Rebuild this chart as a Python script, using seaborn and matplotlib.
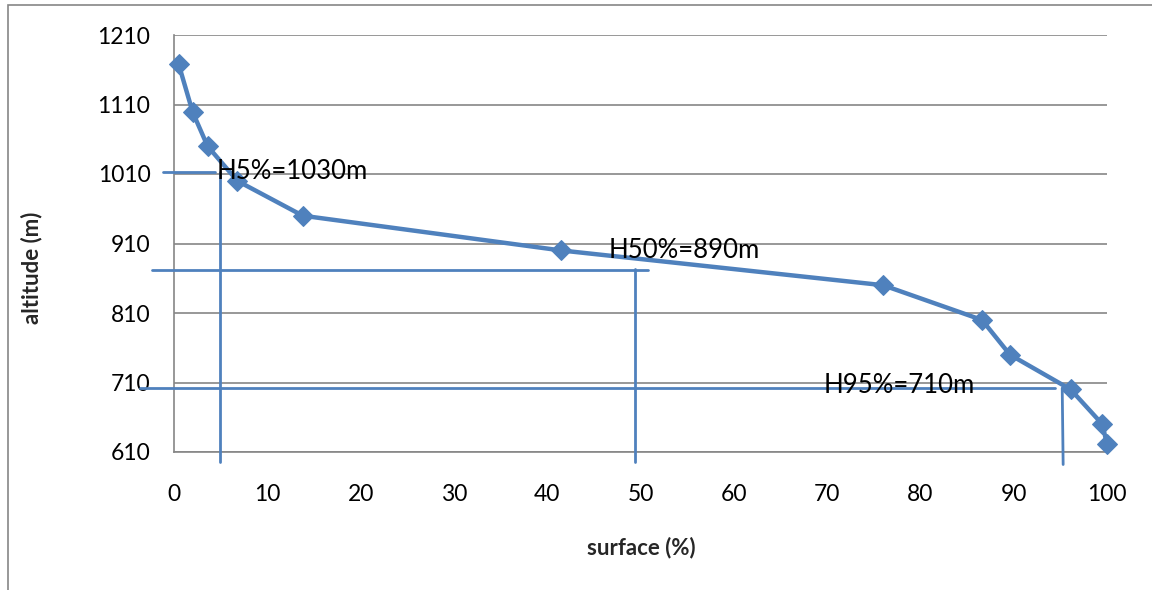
import matplotlib
matplotlib.use("Agg")
import matplotlib.pyplot as plt
import seaborn as sns
import pandas as pd
from matplotlib.patches import Rectangle

# Data
surface = [0.5, 2.0, 3.6, 6.8, 13.8, 41.5, 76.0, 86.6, 89.6, 96.1, 99.5, 100.0]
altitude = [1168, 1099, 1050, 1000, 950, 900, 850, 800, 750, 700, 650, 621]
y_ticks = [610, 710, 810, 910, 1010, 1110, 1210]
x_ticks = [0, 10, 20, 30, 40, 50, 60, 70, 80, 90, 100]

# annotation guide lines (data coords): (x0, y0, x1, y1)
guides = [
    (-1.2, 1013, 4.4, 1013), (4.95, 1013, 4.95, 596),
    (-2.4, 872, 50.8, 872), (49.4, 874, 49.4, 596),
    (-3.6, 702, 94.4, 702), (95.2, 702, 95.3, 592),
]
labels = ["H5%=1030m", "H50%=890m", "H95%=710m"]
label_pos = [(4.6, 1013), (46.6, 900), (69.6, 705)]

sns.set_theme(style="white")
plt.rcParams["font.family"] = ["Lato", "DejaVu Sans"]

blue = "#4F81BD"
fig = plt.figure(figsize=(11.52, 5.90), dpi=100)
ax = fig.add_axes([174/1152, 1-452/590, (1107-174)/1152, (452-35)/590])

df = pd.DataFrame({"surface": surface, "altitude": altitude})
sns.lineplot(data=df, x="surface", y="altitude", ax=ax, color=blue, lw=3.2,
             marker="D", markersize=10, markeredgecolor=blue, clip_on=False,
             zorder=5)

ax.set_xlim(0, 100)
ax.set_ylim(610, 1210)
ax.set_xticks(x_ticks)
ax.set_yticks(y_ticks)
ax.tick_params(axis="both", labelsize=16.5, colors="black", direction="out",
               length=7, width=1.2)
ax.tick_params(axis="x", color="#868686", pad=16)
ax.tick_params(axis="y", color="#868686", pad=10)
ax.yaxis.grid(True, color="#868686", lw=1.2)
ax.xaxis.grid(False)
for s in ["top", "right"]:
    ax.spines[s].set_visible(False)
for s in ["left", "bottom"]:
    ax.spines[s].set_color("#868686")
    ax.spines[s].set_linewidth(1.2)

ax.set_xlabel("surface (%)", fontsize=16, fontweight="bold")
ax.set_ylabel("altitude (m)", fontsize=16, fontweight="bold")
ax.xaxis.set_label_coords((641 - 174) / 933, (452 - 537) / 417)
ax.yaxis.set_label_coords((42 - 174) / 933, (452 - 268) / 417)

for x0, y0, x1, y1 in guides:
    ax.plot([x0, x1], [y0, y1], color=blue, lw=2, clip_on=False, zorder=3)
for t, (x, y) in zip(labels, label_pos):
    ax.text(x, y, t, fontsize=18.5, va="center", ha="left", color="black", zorder=6)

fig.patches.append(Rectangle((8/1152, -0.1), 1.2, 1-5/590+0.1,
                             transform=fig.transFigure, fill=False,
                             edgecolor="#868686", lw=1.2))

fig.savefig("out.png", dpi=100)
